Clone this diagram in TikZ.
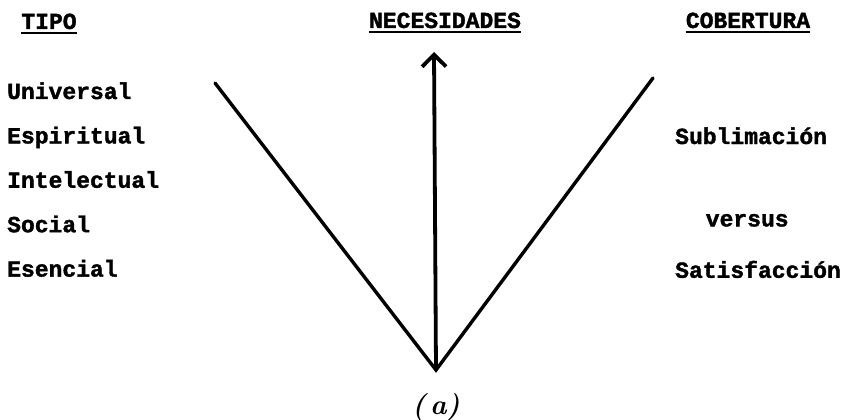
\documentclass[tikz,border=0pt]{standalone}
\usepackage{fontspec}
\newfontfamily\typewriter[FakeBold=1.6]{Liberation Mono Bold}
\usetikzlibrary{arrows.meta,positioning}

\begin{document}
\begin{tikzpicture}[
    x=1pt, y=-1pt,
    node distance=26pt,
    heading/.style={
        font=\fontsize{23}{27}\selectfont\typewriter,
        inner sep=0pt,
        text depth=4pt,
        append after command={
            (\tikzlastnode.south west) edge[line width=2.4pt] (\tikzlastnode.south east)
        }
    },
    item/.style={
        font=\fontsize{23}{27}\selectfont\typewriter,
        inner sep=0pt,
        text height=14pt,
        text depth=4pt,
        align=left
    },
    leg/.style={line width=3.4pt, line cap=round},
    rise/.style={line width=3.8pt, -{Straight Barb[length=12pt,width=24pt]}}
]
    \useasboundingbox (0,0) rectangle (844,420);

    % headings
    \node[heading, anchor=base] (tipo) at (49,29) {TIPO};
    \node[heading, anchor=base] (necesidades) at (445,28) {NECESIDADES};
    \node[heading, anchor=base] (cobertura) at (748,28) {COBERTURA};

    % tipos
    \node[item, text width=190pt, anchor=base west] (universal) at (7,99) {Universal};
    \node[item, text width=190pt, below=of universal] (espiritual) {Espiritual};
    \node[item, text width=190pt, below=of espiritual] (intelectual) {Intelectual};
    \node[item, text width=190pt, below=of intelectual] (social) {Social};
    \node[item, text width=190pt, below=of social] (esencial) {Esencial};

    % cobertura
    \node[item, text width=168pt, anchor=base west] (sublimacion) at (675,144) {Sublimación};
    \node[item, below=64pt of sublimacion, xshift=-12pt] (versus) {versus};
    \node[item, text width=168pt, below=33pt of versus, xshift=12pt] (satisfaccion) {Satisfacción};

    % the V and the arrow
    \coordinate (vertex) at (436,370);
    \coordinate (left-top) at (215,83);
    \coordinate (right-top) at (653,78);
    \coordinate (arrow-top) at (434,52);

    \draw[leg] (left-top) -- (vertex) -- (right-top);
    \draw[rise] (vertex) -- (arrow-top);

    \node[font=\fontsize{28}{32}\selectfont\itshape\bfseries, below=20pt of vertex] (caption) {(\,a)};
\end{tikzpicture}
\end{document}
